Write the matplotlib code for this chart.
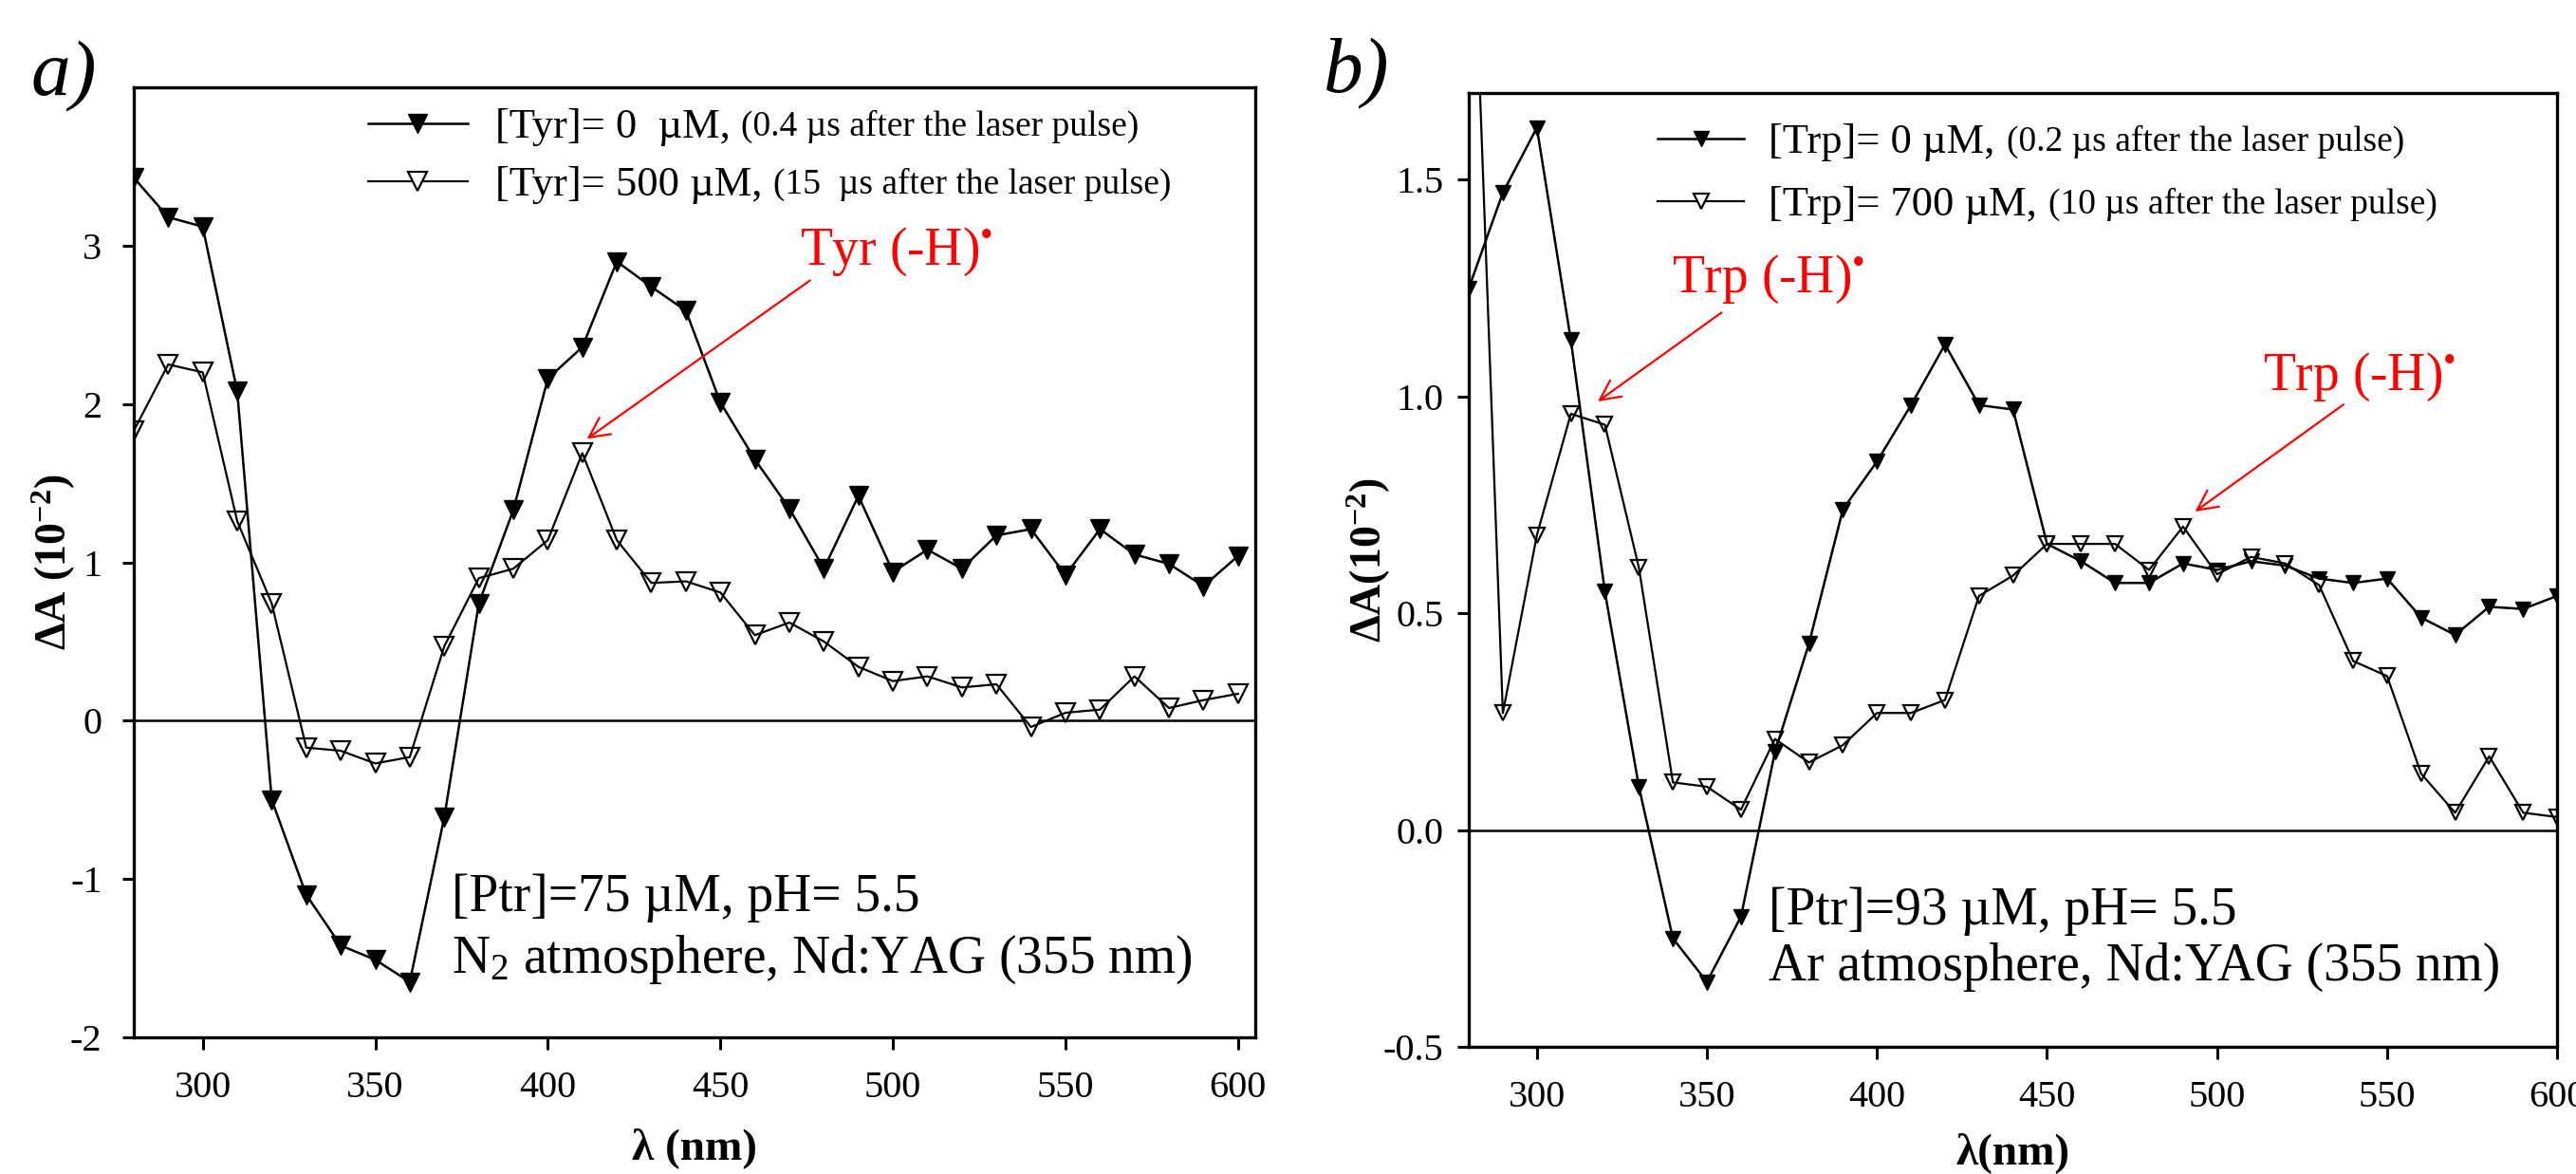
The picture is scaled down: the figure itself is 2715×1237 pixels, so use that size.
import matplotlib
matplotlib.use("Agg")
import matplotlib.pyplot as plt
from matplotlib.lines import Line2D

plt.rcParams['font.family'] = ['Liberation Serif', 'DejaVu Serif']
plt.rcParams['mathtext.fontset'] = 'custom'
plt.rcParams['mathtext.rm'] = 'Liberation Serif'
plt.rcParams['mathtext.it'] = 'Liberation Serif:italic'
plt.rcParams['mathtext.bf'] = 'Liberation Serif:bold'
plt.rcParams['axes.unicode_minus'] = False

# wavelength grid (nm)
wavelength = [280, 290, 300, 310, 320, 330, 340, 350, 360, 370, 380, 390, 400,
              410, 420, 430, 440, 450, 460, 470, 480, 490, 500, 510, 520, 530,
              540, 550, 560, 570, 580, 590, 600]

# panel a) - tyrosine
tyr_0 = [3.43, 3.18, 3.12, 2.08, -0.50, -1.10, -1.42, -1.51, -1.65, -0.61, 0.74,
         1.33, 2.16, 2.36, 2.90, 2.74, 2.59, 2.01, 1.65, 1.34, 0.96, 1.42, 0.94,
         1.08, 0.96, 1.17, 1.21, 0.92, 1.21, 1.05, 0.99, 0.85, 1.04]
tyr_500 = [1.83, 2.25, 2.20, 1.26, 0.74, -0.17, -0.19, -0.27, -0.23, 0.47, 0.90,
           0.96, 1.14, 1.69, 1.14, 0.87, 0.88, 0.81, 0.54, 0.62, 0.50, 0.34, 0.25,
           0.28, 0.21, 0.23, -0.04, 0.05, 0.07, 0.28, 0.08, 0.13, 0.17]

# panel b) - tryptophan
trp_0 = [1.25, 1.47, 1.62, 1.13, 0.55, 0.10, -0.25, -0.35, -0.20, 0.18, 0.43,
         0.74, 0.85, 0.98, 1.12, 0.98, 0.97, 0.66, 0.62, 0.57, 0.57, 0.615, 0.60,
         0.62, 0.61, 0.58, 0.57, 0.58, 0.49, 0.45, 0.515, 0.51, 0.54]
trp_700 = [2.40, 0.27, 0.68, 0.96, 0.935, 0.605, 0.11, 0.10, 0.047, 0.21, 0.156,
           0.196, 0.27, 0.27, 0.30, 0.54, 0.587, 0.66, 0.66, 0.66, 0.60, 0.70, 0.59,
           0.63, 0.615, 0.565, 0.39, 0.355, 0.13, 0.04, 0.17, 0.04, 0.03]

x_ticks = [300, 350, 400, 450, 500, 550, 600]
ticks_a = [-2, -1, 0, 1, 2, 3]
ticks_b = [-0.5, 0.0, 0.5, 1.0, 1.5]

labels_a = ["[Tyr]= 0  \u00b5M,", "[Tyr]= 500 \u00b5M,"]
notes_a = ["(0.4 \u00b5s after the laser pulse)", "(15  \u00b5s after the laser pulse)"]
labels_b = ["[Trp]= 0 \u00b5M,", "[Trp]= 700 \u00b5M,"]
notes_b = ["(0.2 \u00b5s after the laser pulse)", "(10 \u00b5s after the laser pulse)"]

fig = plt.figure(figsize=(27.15, 12.37), dpi=100)
ax_a = fig.add_axes([0.0519, 0.1164, 0.4354, 0.8092])
ax_b = fig.add_axes([0.5702, 0.1083, 0.4225, 0.8125])


def draw_series(ax, y_filled, y_open, ms):
    ax.plot(wavelength, y_filled, linestyle='none', marker='v', ms=ms,
            mfc='black', mec='black', zorder=2)
    ax.plot(wavelength, y_open, linestyle='none', marker='v', ms=ms,
            mfc='white', mec='black', mew=1.6, zorder=2)
    ax.plot(wavelength, y_filled, color='black', lw=1.8, zorder=3)
    ax.plot(wavelength, y_open, color='black', lw=1.6, zorder=3)


def style_axes(ax, xlim, ylim, yticks, fmt):
    ax.set_xlim(*xlim)
    ax.set_ylim(*ylim)
    ax.set_xticks(x_ticks)
    ax.set_yticks(yticks)
    ax.set_yticklabels([fmt.format(v) for v in yticks])
    ax.axhline(0, color='black', lw=1.8, zorder=1)
    ax.tick_params(direction='out', length=9, width=2.2, labelsize=29,
                   top=False, right=False)
    ax.tick_params(axis='x', pad=16)
    for s in ax.spines.values():
        s.set_linewidth(2.4)


draw_series(ax_a, tyr_0, tyr_500, 14)
draw_series(ax_b, trp_0, trp_700, 12)
style_axes(ax_a, (280, 605), (-2, 4), ticks_a, "{:g}")
style_axes(ax_b, (280, 600), (-0.5, 1.7), ticks_b, "{:.1f}")
ax_a.tick_params(axis='y', pad=15)
ax_b.tick_params(axis='y', pad=10)

ax_a.set_xlabel("\u03bb (nm)", fontsize=34, fontweight='bold')
ax_b.set_xlabel("\u03bb(nm)", fontsize=34, fontweight='bold')
ax_a.xaxis.set_label_coords(0.5, -0.095)
ax_b.xaxis.set_label_coords(0.5, -0.09)
ax_a.set_ylabel("\u0394A (10$^{\\mathbf{-2}}$)", fontsize=33, fontweight='bold')
ax_b.set_ylabel("\u0394A(10$^{\\mathbf{-2}}$)", fontsize=33, fontweight='bold')
ax_a.yaxis.set_label_coords(-0.05, 0.5)
ax_b.yaxis.set_label_coords(-0.07, 0.51)

# condition notes
ax_a.text(372, -1.20, "[Ptr]=75 \u00b5M, pH= 5.5", fontsize=40, va='baseline')
ax_a.text(372, -1.59, "N$_2$ atmosphere, Nd:YAG (355 nm)", fontsize=40, va='baseline')
ax_b.text(368, -0.218, "[Ptr]=93 \u00b5M, pH= 5.5", fontsize=40, va='baseline')
ax_b.text(368, -0.347, "Ar atmosphere, Nd:YAG (355 nm)", fontsize=40, va='baseline')

# radical annotations
radical = "(-H)$^{\u2022}$"
arrow = dict(arrowstyle='->', color='red', lw=1.6, mutation_scale=38)
ax_a.annotate("", xy=(410.7, 1.77), xytext=(476.6, 2.79), arrowprops=arrow)
ax_a.text(473, 2.88, "Tyr " + radical, color='red', fontsize=40, va='baseline')
ax_b.annotate("", xy=(317.3, 0.985), xytext=(354.9, 1.197), arrowprops=arrow)
ax_b.text(339.6, 1.24, "Trp " + radical, color='red', fontsize=40, va='baseline')
ax_b.annotate("", xy=(492.9, 0.731), xytext=(537.8, 0.985), arrowprops=arrow)
ax_b.text(513.5, 1.015, "Trp " + radical, color='red', fontsize=40, va='baseline')


def make_legend(ax, labels, ms, anchor, hl, htp, ls):
    handles = [
        Line2D([], [], color='black', lw=1.8, marker='v', ms=ms, mfc='black', mec='black'),
        Line2D([], [], color='black', lw=1.6, marker='v', ms=ms, mfc='white', mec='black', mew=1.6),
    ]
    return ax.legend(handles, labels, loc='upper left', bbox_to_anchor=anchor,
                     frameon=False, fontsize=32, borderpad=0, borderaxespad=0,
                     handlelength=hl, handletextpad=htp, labelspacing=ls, numpoints=1)


leg_a = make_legend(ax_a, labels_a, 14, (0.209, 0.978), 2.36, 0.65, 0.47)
leg_b = make_legend(ax_b, labels_b, 12, (0.1735, 0.968), 2.05, 0.59, 0.58)

fig.text(0.0118, 0.919, "a)", fontsize=60, style='italic', va='baseline')
fig.text(0.5138, 0.9216, "b)", fontsize=60, style='italic', va='baseline')

# smaller parenthetical part of each legend entry
fig.canvas.draw()
inv = fig.transFigure.inverted()
for leg, notes in [(leg_a, notes_a), (leg_b, notes_b)]:
    for t, note in zip(leg.get_texts(), notes):
        bb = t.get_window_extent()
        fx, fy = inv.transform((bb.x1 + 12, bb.y0 + 3))
        fig.text(fx, fy, note, fontsize=27, va='bottom', ha='left')

fig.savefig("out.png", dpi=100)
